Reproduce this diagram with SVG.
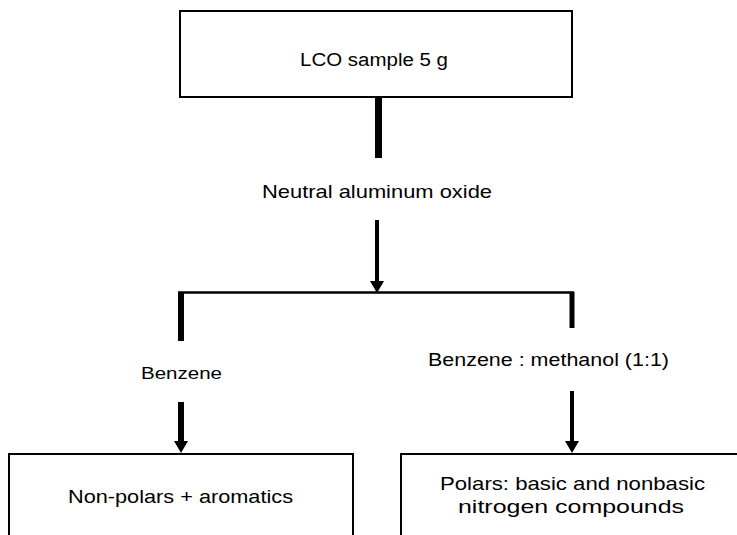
<svg xmlns="http://www.w3.org/2000/svg" width="737" height="535" viewBox="0 0 737 535">
<style>
.box{fill:#fff;stroke:#000;stroke-width:2}
.t{font-family:"Liberation Sans",Arial,sans-serif;font-size:19px;fill:#000}
.ln{stroke:#000;fill:none;stroke-linecap:butt}
</style>
<defs>
<marker id="ah" markerUnits="userSpaceOnUse" viewBox="0 0 12 14" markerWidth="12" markerHeight="14" refX="5" refY="7" orient="auto">
<path d="M0,0 L12,7 L0,14 z" fill="#000"/>
</marker>
</defs>
<rect width="737" height="535" fill="#fff"/>
<g id="connectors">
<line class="ln" x1="378.5" y1="97" x2="378.5" y2="158" stroke-width="7"/>
<line class="ln" x1="377" y1="220" x2="377" y2="286" stroke-width="4" marker-end="url(#ah)"/>
<line class="ln" x1="178" y1="292.5" x2="574" y2="292.5" stroke-width="2.5"/>
<line class="ln" x1="181" y1="292" x2="181" y2="341" stroke-width="6"/>
<line class="ln" x1="572" y1="292" x2="572" y2="328" stroke-width="5"/>
<line class="ln" x1="181" y1="402" x2="181" y2="446" stroke-width="6" marker-end="url(#ah)"/>
<line class="ln" x1="572" y1="391" x2="572" y2="446" stroke-width="4" marker-end="url(#ah)"/>
</g>
<g id="node-lco">
<rect class="box" x="180" y="11" width="392" height="86"/>
<text class="t" x="300" y="66" textLength="148" lengthAdjust="spacingAndGlyphs" style="font-size:18px">LCO sample 5 g</text>
</g>
<g id="label-alumina">
<text class="t" x="262" y="198" textLength="230" lengthAdjust="spacingAndGlyphs">Neutral aluminum oxide</text>
</g>
<g id="label-benzene">
<text class="t" x="141" y="379" textLength="81" lengthAdjust="spacingAndGlyphs" style="font-size:17px">Benzene</text>
</g>
<g id="label-benzene-methanol">
<text class="t" x="428" y="366" textLength="241" lengthAdjust="spacingAndGlyphs" style="font-size:18px">Benzene : methanol (1:1)</text>
</g>
<g id="node-nonpolars">
<rect class="box" x="9" y="454" width="344" height="100"/>
<text class="t" x="68" y="503" textLength="225" lengthAdjust="spacingAndGlyphs">Non-polars + aromatics</text>
</g>
<g id="node-polars">
<rect class="box" x="401" y="454" width="360" height="100"/>
<text class="t" x="440" y="490" textLength="265" lengthAdjust="spacingAndGlyphs">Polars: basic and nonbasic</text>
<text class="t" x="458" y="513" textLength="226" lengthAdjust="spacingAndGlyphs">nitrogen compounds</text>
</g>
</svg>
